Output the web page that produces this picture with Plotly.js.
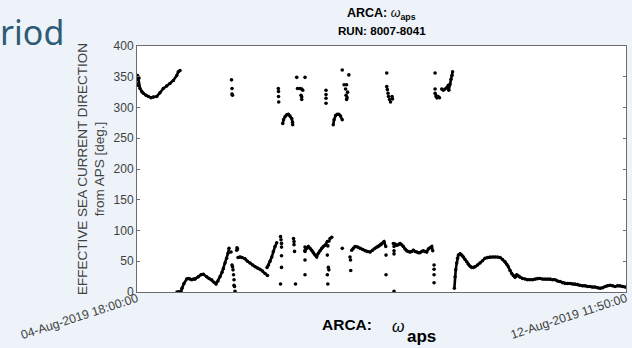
<!DOCTYPE html>
<html>
<head>
<meta charset="utf-8">
<script src="https://cdn.plot.ly/plotly-3.0.1.min.js"></script>
<style>
  html, body { margin: 0; padding: 0; background: #edf3f8; }
  #chart { width: 632px; height: 348px; }
</style>
</head>
<body>
<div id="chart"></div>
<script>
// Time axis: hours elapsed since 04-Aug-2019 18:00:00 (UTC)
const startLabel = '2019-08-04 18:00:00';
const endLabel = '2019-08-12 11:50:00';
const tickText = ['04-Aug-2019 18:00:00', '12-Aug-2019 11:50:00'];

// Continuous runs of samples (null separates runs)
const runHours = [
  0, 0.38, 1.14, 1.79, 2.39, 3.42, 4.29, 5.32, 6.20, 7.49, 8.74, 10.0, 11.29, 12.54, 13.80, 15.09, 15.70, 16.34, null,
  15.2, 15.96, 16.72, 17.10, 17.86, 18.89, 19.50, 20.14, 20.79, 21.47, 22.04, 23.30, 24.33, 25.20, 26.49, 27.37, 28.39, 29.27, 30.03, 30.79, 31.55, 32.31, 32.80, 33.45, 34.09, 34.59, 34.97, null,
  38.39, 39.15, 39.91, 41.05, 42.0, 42.95, 43.90, 44.85, 45.80, 46.75, 47.70, 48.65, 49.60, null,
  49.41, 49.98, 50.55, 51.20, 51.81, 52.45, 53.10, null,
  55.38, 55.68, 56.25, 56.82, 57.51, 58.15, 58.80, 59.10, 59.18, null,
  63.85, 64.50, 65.10, 65.75, 66.40, 67.01, 67.66, 68.30, 68.91, 69.55, 70.20, 70.81, 71.45, 72.33, null,
  74.58, 74.89, 75.46, 76.10, 76.71, 77.36, 78.0, null,
  81.60, 82.21, 82.86, 83.81, 84.76, 85.71, 86.66, 87.61, 88.56, 89.51, 90.46, 91.22, 91.71, 92.36, 93.0, 93.88, 94.53, null,
  97.42, 98.06, 98.71, 99.32, 99.96, 100.61, 101.22, 101.86, 102.51, 103.12, 103.76, 104.41, 105.01, 105.66, 106.30, 106.91, 107.56, 108.20, 108.81, 109.46, 110.10, 110.71, 111.36, 112.0, 112.39, null,
  113.27, 113.64, 114.02, 114.40, 114.97, null,
  117.71, 118.31, 118.50, 118.96, 119.34, 119.73, 119.92, null,
  120.60, 120.87, 121.13, 121.51, 121.82, 122.12, 122.77, 123.41, 124.02, 124.67, 125.31, 125.92, 126.57, 127.21, 127.82, 128.47, 129.42, 130.37, 131.32, 132.27, 133.22, 134.17, 135.12, 136.07, 137.02, 137.97, 138.92, 139.87, 140.52, 141.12, 141.77, 142.42, 143.02, 143.67, 144.32, 144.92, 145.57, 146.52, 147.47, 148.42, 149.37, 150.32, 151.27, 152.22, 153.17, 154.12, 155.07, 156.02, 156.97, 157.92, 158.87, 159.82, 160.77, 161.72, 162.67, 163.62, 164.57, 165.52, 166.47, 167.42, 168.37, 169.32, 170.27, 171.22, 172.17, 173.12, 174.07, 175.02, 175.97, 176.92, 177.87, 178.82, 179.77, 180.72, 181.67, 182.62, 183.57, 184.52, 185.47
];
const runDirection = [
  345, 350, 331, 326, 323, 320, 318, 316, 317, 318, 324, 331, 335, 339, 344, 352, 358, 360, null,
  0, 0, 1, 6, 14, 21, 22, 21, 20, 21, 21, 25, 28, 29, 25, 22, 20, 16, 13, 18, 25, 32, 38, 47, 55, 63, 71, null,
  56, 57, 56, 54, 50, 47, 44, 41, 39, 37, 34, 30, 27, null,
  40, 44, 50, 57, 66, 74, 80, null,
  274, 280, 285, 288, 289, 286, 282, 276, 272, null,
  68, 71, 74, 71, 68, 64, 60, 57, 63, 67, 71, 74, 76, 82, null,
  272, 280, 287, 289, 289, 286, 280, null,
  68, 71, 74, 73, 71, 69, 67, 66, 65, 68, 71, 73, 74, 76, 78, 82, 74, null,
  79, 78, 76, 77, 79, 77, 74, 70, 67, 66, 65, 66, 68, 66, 65, 64, 64, 66, 67, 66, 65, 70, 72, 74, 67, null,
  323, 318, 316, 318, 316, null,
  332, 336, 328, 338, 346, 352, 358, null,
  6, 25, 36, 47, 55, 60, 62, 60, 57, 53, 49, 45, 42, 40, 40, 41, 44, 47, 51, 55, 56, 57, 57, 57, 57, 56, 53, 49, 45, 41, 35, 30, 27, 24, 28, 26, 24, 22, 21, 20, 20, 20, 21, 22, 22, 21, 21, 21, 21, 20, 20, 18, 17, 15, 14, 14, 14, 13, 13, 12, 11, 10, 10, 9, 9, 8, 8, 7, 6, 7, 9, 10, 11, 10, 9, 10, 10, 9, 8
];

// Isolated samples
const dotHours = [
  0, 0.19, 0.57, 0.76,
  35.73, 36.11, 36.30, 36.49, 36.68, 36.87, 36.87, 37.06, 37.25,
  35.92, 36.11, 36.11, 36.30,
  37.89, 38.20, 38.0,
  54.54, 54.73, 54.92, 54.92, 54.92, 54.92, 54.54,
  53.70, 53.78, 53.78, 53.86,
  59.48, 59.67, 59.67, 59.86, 60.24,
  60.70, 63.85, 61.95, 62.60, 61.0, 62.98, 62.33, 62.60, 62.60,
  63.85, 63.85, 63.85, 63.85,
  72.98, 73.36, 74.0,
  72.52, 72.33, 72.71, 72.90, 72.33, 72.52,
  71.83, 71.83, 71.83, 71.83,
  78.0, 80.51, 78.69, 79.64, 79.26, 79.45, 79.64, 79.83, 80.02,
  78.0,
  80.95, 81.14, 81.22,
  94.64, 94.64,
  94.91, 94.91, 95.14, 95.40, 95.59, 95.97, 96.35, 96.92, 97.11,
  97.68, 97.68, 97.68, 97.68,
  112.89, 112.89, 112.89, 112.89,
  113.27, 113.27, 115.81, 116.42, 117.06
];
const dotDirection = [
  338, 352, 336, 348,
  65, 44, 41, 36, 28, 20, 11, 9, 1,
  345, 331, 322, 320,
  68, 70, 72,
  90, 85, 79, 73, 59, 40, 13,
  331, 326, 318, 309,
  87, 82, 77, 66, 13,
  349, 349, 331, 330, 331, 328, 320, 317, 313,
  73, 66, 52, 28,
  83, 87, 89,
  75, 60, 40, 36, 28, 13,
  328, 321, 315, 307,
  361, 353, 337, 337, 330, 320, 313, 316, 325,
  71,
  57, 52, 35,
  60, 28,
  356, 334, 329, 323, 318, 313, 309, 318, 314,
  1, 74, 67, 62,
  44, 37, 28, 15,
  356, 330, 330, 328, 330
];

const START_MS = Date.UTC(2019, 7, 4, 18, 0, 0);
function hoursToDate(h) {
  if (h === null) return null;
  return new Date(START_MS + h * 3600000).toISOString().replace('T', ' ').slice(0, 19);
}

const FAMILY = 'Liberation Sans, Arial, sans-serif';
const axisFont = { family: FAMILY, size: 12, color: '#404040' };

const traces = [
  {
    x: runHours.map(hoursToDate), y: runDirection,
    type: 'scatter', mode: 'lines+markers', connectgaps: false,
    line: { color: '#000', width: 2.6 },
    marker: { color: '#000', size: 3.5 },
    hoverinfo: 'x+y', showlegend: false
  },
  {
    x: dotHours.map(hoursToDate), y: dotDirection,
    type: 'scatter', mode: 'markers',
    marker: { color: '#000', size: 3.6 },
    hoverinfo: 'x+y', showlegend: false
  }
];

const layout = {
  width: 632, height: 348,
  margin: { l: 137, r: 6, t: 46, b: 56, pad: 0 },
  paper_bgcolor: '#edf3f8',
  plot_bgcolor: '#ffffff',
  font: axisFont,
  showlegend: false,
  xaxis: {
    type: 'date',
    range: [startLabel, endLabel],
    tickmode: 'array',
    tickvals: [startLabel, endLabel],
    ticktext: tickText,
    tickangle: -18,
    ticks: '',
    ticklabelstandoff: -6,
    tickfont: { family: FAMILY, size: 12.3, color: '#404040' },
    showline: true, mirror: true, linecolor: '#6b6b6b', linewidth: 1,
    showgrid: false, zeroline: false, automargin: false
  },
  yaxis: {
    range: [0, 400],
    tickmode: 'linear', tick0: 0, dtick: 50,
    ticks: 'inside', ticklen: 3, tickcolor: '#6b6b6b',
    tickfont: axisFont,
    showline: true, mirror: 'ticks', linecolor: '#6b6b6b', linewidth: 1,
    showgrid: false, zeroline: false, automargin: false,
    title: {
      text: 'EFFECTIVE SEA CURRENT DIRECTION<br>from APS [deg.]',
      font: { family: FAMILY, size: 13.5, color: '#404040' },
      standoff: 5
    }
  },
  annotations: [
    {
      xref: 'paper', yref: 'paper', x: 0.5, y: 1.13, xanchor: 'center', yanchor: 'middle',
      text: '<b>ARCA: </b><i>ω</i><sub><b>aps</b></sub>', showarrow: false,
      font: { family: FAMILY, size: 12.5, color: '#000' }
    },
    {
      xref: 'paper', yref: 'paper', x: 0.5, y: 1.065, xanchor: 'center', yanchor: 'middle',
      text: '<b>RUN: 8007-8041</b>', showarrow: false,
      font: { family: FAMILY, size: 11.6, color: '#000' }
    },
    {
      xref: 'paper', yref: 'paper', x: 0.374, y: -0.133, xanchor: 'left', yanchor: 'middle',
      text: '<b>ARCA:</b>', showarrow: false,
      font: { family: FAMILY, size: 15.5, color: '#000' }
    },
    {
      xref: 'paper', yref: 'paper', x: 0.533, y: -0.142, xanchor: 'center', yanchor: 'middle',
      text: '<i>ω</i>', showarrow: false,
      font: { family: FAMILY, size: 16, color: '#000' }
    },
    {
      xref: 'paper', yref: 'paper', x: 0.548, y: -0.18, xanchor: 'left', yanchor: 'middle',
      text: '<b>aps</b>', showarrow: false,
      font: { family: FAMILY, size: 17, color: '#000' }
    },
    {
      xref: 'paper', yref: 'paper', x: -0.145, y: 1.055, xanchor: 'right', yanchor: 'middle',
      text: 'riod', showarrow: false,
      font: { family: 'Noto Sans, Open Sans, sans-serif', size: 34, color: '#2d5b78' }
    }
  ]
};

Plotly.newPlot('chart', traces, layout, { staticPlot: true, displayModeBar: false });
</script>
</body>
</html>
